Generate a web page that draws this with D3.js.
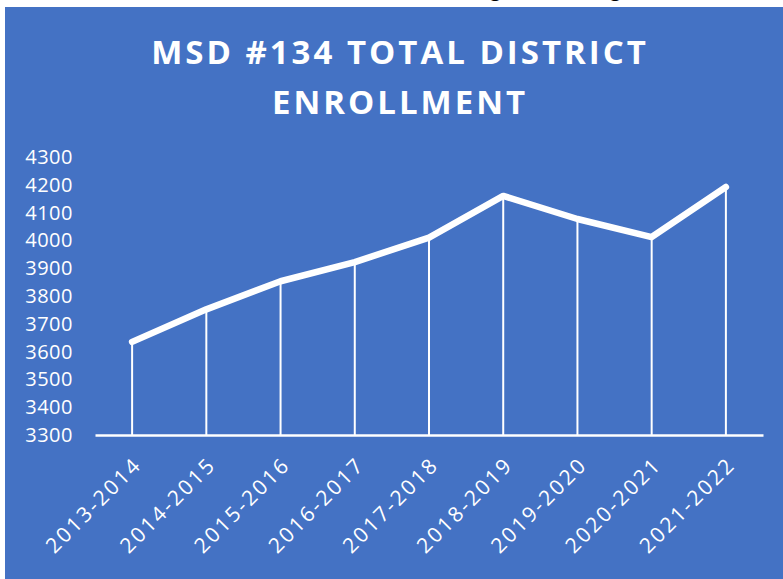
<!DOCTYPE html>
<html>
<head>
<meta charset="utf-8">
<script src="https://cdn.jsdelivr.net/npm/d3@7"></script>
<style>
  body { margin: 0; background: #fff; }
  svg { display: block; }
</style>
</head>
<body>
<script>
// school years and total enrollment
const years = ["2013-2014", "2014-2015", "2015-2016", "2016-2017", "2017-2018", "2018-2019", "2019-2020", "2020-2021", "2021-2022"];
const enrollment = [3635, 3752, 3853, 3922, 4010, 4160, 4077, 4012, 4192];
const yTicks = [3300, 3400, 3500, 3600, 3700, 3800, 3900, 4000, 4100, 4200, 4300];
const titleLines = ["MSD #134 TOTAL DISTRICT", "ENROLLMENT"];

const W = 783, H = 579;
const blue = "#4472C4";

const svg = d3.select("body").append("svg")
  .attr("width", W)
  .attr("height", H);

// bits of the page text above the chart, mostly cut off
svg.selectAll("text.above")
  .data([490, 610])
  .enter().append("text")
  .attr("class", "above")
  .attr("x", d => d)
  .attr("y", -4)
  .attr("font-family", "Open Sans, sans-serif")
  .attr("font-size", 20)
  .attr("fill", "#000")
  .text("g");

svg.append("rect")
  .attr("x", 5).attr("y", 7)
  .attr("width", W - 5).attr("height", H - 7)
  .attr("fill", blue);

// title
svg.selectAll("text.title")
  .data(titleLines)
  .enter().append("text")
  .attr("class", "title")
  .attr("x", 400)
  .attr("y", (d, i) => 64 + i * 50)
  .attr("text-anchor", "middle")
  .attr("font-family", "Open Sans, sans-serif")
  .attr("font-weight", 700)
  .attr("font-size", 33)
  .attr("letter-spacing", 3)
  .attr("fill", "#fff")
  .text(d => d);

const x = d3.scaleBand().domain(years).range([95, 763]);
const y = d3.scaleLinear().domain([3300, 4300]).range([435, 157]);
const cx = d => x(d) + x.bandwidth() / 2;

// y axis labels
const yAxis = svg.append("g")
  .attr("transform", "translate(77,0)")
  .call(d3.axisLeft(y).tickValues(yTicks).tickSize(0).tickPadding(4).tickFormat(d3.format("d")));
yAxis.select(".domain").remove();
yAxis.selectAll("text")
  .attr("font-family", "Open Sans, sans-serif")
  .attr("font-size", 20)
  .attr("letter-spacing", 0.5)
  .attr("fill", "#fff");

// drop lines
svg.selectAll("line.drop")
  .data(years)
  .enter().append("line")
  .attr("class", "drop")
  .attr("x1", d => cx(d)).attr("x2", d => cx(d))
  .attr("y1", (d, i) => y(enrollment[i]))
  .attr("y2", y(3300))
  .attr("stroke", "#fff")
  .attr("stroke-width", 2);

// x axis
const xAxis = svg.append("g")
  .attr("transform", `translate(0,${y(3300)})`)
  .call(d3.axisBottom(x).tickSize(0).tickPadding(0));
xAxis.select(".domain")
  .attr("stroke", "#fff")
  .attr("stroke-width", 2.5);
xAxis.selectAll("text")
  .attr("font-family", "Open Sans, sans-serif")
  .attr("font-size", 21)
  .attr("letter-spacing", 2.5)
  .attr("fill", "#fff")
  .attr("text-anchor", "end")
  .attr("dy", 0)
  .attr("transform", "translate(11,31) rotate(-45)");

// line
const line = d3.line()
  .x((d, i) => cx(years[i]))
  .y(d => y(d));

svg.append("path")
  .datum(enrollment)
  .attr("d", line)
  .attr("fill", "none")
  .attr("stroke", "#fff")
  .attr("stroke-width", 6.5)
  .attr("stroke-linecap", "round")
  .attr("stroke-linejoin", "round");
</script>
</body>
</html>
